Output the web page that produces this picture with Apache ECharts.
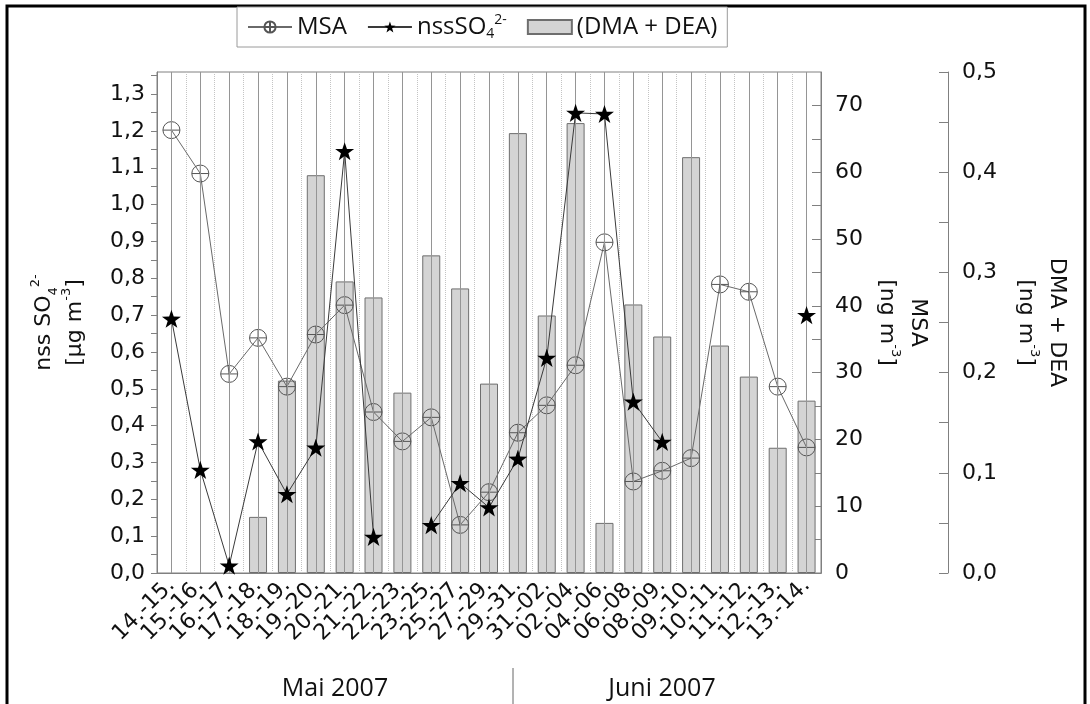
<!DOCTYPE html>
<html>
<head>
<meta charset="utf-8">
<script src="https://cdn.jsdelivr.net/npm/echarts@6/dist/echarts.min.js"></script>
<style>
  html, body { margin: 0; padding: 0; background: #fff; }
  #chart { width: 1090px; height: 704px; }
</style>
</head>
<body>
<div id="chart"></div>
<script>
// sampling periods (Mai / Juni 2007)
const periods = ['14.-15.', '15.-16.', '16.-17.', '17.-18.', '18.-19.', '19.-20.', '20.-21.', '21.-22.',
  '22.-23.', '23.-25.', '25.-27.', '27.-29.', '29.-31.', '31.-02.', '02.-04.', '04.-06.', '06.-08.',
  '08.-09.', '09.-10.', '10.-11.', '11.-12.', '12.-13.', '13.-14.'];

// MSA [ng m-3]
const msa = [66.3, 59.8, 29.8, 35.2, 27.9, 35.7, 40.1, 24.1, 19.7, 23.3, 7.2, 12.1,
  21.0, 25.1, 31.1, 49.5, 13.7, 15.3, 17.2, 43.2, 42.1, 27.9, 18.8];

// nss SO4 2- [ug m-3]
const nssSO4 = [0.69, 0.28, 0.02, 0.357, 0.214, 0.34, 1.145, 0.098, null, 0.13, 0.244, 0.178,
  0.31, 0.584, 1.249, 1.246, 0.465, 0.356, null, null, null, null, 0.70];

// DMA + DEA [ng m-3]
const dmaDea = [null, null, null, 0.056, 0.192, 0.397, 0.291, 0.275, 0.180, 0.317, 0.284, 0.189,
  0.439, 0.257, 0.449, 0.050, 0.268, 0.236, 0.415, 0.227, 0.196, 0.125, 0.172];

const months = ['Mai 2007', 'Juni 2007'];

const starPath = 'path://M12,0 L14.9,8.6 L24,8.7 L16.7,14.1 L19.4,22.8 L12,17.5 L4.6,22.8 L7.3,14.1 L0,8.7 L9.1,8.6 Z';
const circlePlus = 'path://M1,12 A11,11 0 1,0 23,12 A11,11 0 1,0 1,12 Z M1,12 L23,12 M12,1 L12,23';

const axisFont = 'DejaVu Sans';
const textFont = 'Open Sans';
const gray = '#808080';

function comma(v, digits) {
  return v.toFixed(digits).replace('.', ',');
}

const nameRich = {
  a: { fontFamily: axisFont, fontSize: 22, color: '#111', lineHeight: 31 },
  sub: { fontFamily: axisFont, fontSize: 13, color: '#111', verticalAlign: 'bottom', lineHeight: 31 },
  sup: { fontFamily: axisFont, fontSize: 13, color: '#111', verticalAlign: 'top', lineHeight: 31 }
};

let myChart = echarts.init(document.getElementById('chart'));
myChart.setOption({
  animation: false,
  backgroundColor: '#fff',
  grid: {
    left: 157, right: 269, top: 72, bottom: 131,
    show: true, borderColor: gray, borderWidth: 1,
    outerBoundsMode: 'none'
  },
  legend: {
    left: 237, top: 7,
    data: [{ name: 'MSA' }, { name: 'nss' }, { name: '(DMA + DEA)', icon: 'rect' }],
    borderColor: '#9a9a9a', borderWidth: 1, backgroundColor: '#fff',
    padding: [6, 10, 6, 10],
    itemWidth: 44, itemHeight: 14, itemGap: 20,
    formatter: function (name) {
      if (name === 'nss') return '{t|nssSO}{sub|4}{sup|2-}';
      return '{t|' + name + '}';
    },
    textStyle: {
      rich: {
        t: { fontFamily: textFont, fontSize: 24, color: '#111' },
        sub: { fontFamily: textFont, fontSize: 14, color: '#111', verticalAlign: 'bottom', lineHeight: 28 },
        sup: { fontFamily: textFont, fontSize: 14, color: '#111', verticalAlign: 'top', lineHeight: 28 }
      }
    }
  },
  xAxis: [
    {
      type: 'category', data: periods, position: 'bottom',
      axisLine: { lineStyle: { color: gray } },
      axisTick: { interval: 0, length: 5, lineStyle: { color: gray } },
      axisLabel: {
        interval: 0, rotate: 45, margin: 9, hideOverlap: false,
        fontFamily: axisFont, fontSize: 22, color: '#111'
      },
      splitLine: { show: true, interval: 0, lineStyle: { color: '#c4c4c4', type: 'dotted', width: 1 } }
    },
    {
      type: 'category', data: periods, position: 'bottom',
      axisLine: { show: false },
      axisTick: { interval: 0, alignWithLabel: true, length: 5, lineStyle: { color: gray } },
      axisLabel: { show: false },
      splitLine: { show: false }
    },
    {
      type: 'category', data: periods, position: 'top',
      axisLine: { lineStyle: { color: gray } },
      axisTick: { interval: 0, inside: true, length: 5, lineStyle: { color: gray } },
      axisLabel: { show: false },
      splitLine: { show: false }
    }
  ],
  yAxis: [
    {
      type: 'value', position: 'left', min: 0, max: 1.36, interval: 0.05,
      axisLine: { show: true, lineStyle: { color: gray } },
      axisTick: { show: true, length: 6, lineStyle: { color: gray } },
      axisLabel: {
        margin: 12, fontFamily: axisFont, fontSize: 22, color: '#111', showMaxLabel: false,
        formatter: function (v) {
          const k = Math.round(v * 100);
          return (k % 10 === 0 && k <= 130) ? comma(v, 1) : '';
        }
      },
      splitLine: { show: false },
      name: '{a|nss SO}{sub|4}{sup|2-}\n{a|[µg m}{sup|-3}{a|]}',
      nameLocation: 'middle', nameRotate: 90, nameGap: 66, nameMoveOverlap: false,
      nameTextStyle: { rich: nameRich, align: 'center' }
    },
    {
      type: 'value', position: 'right', min: 0, max: 75, interval: 5,
      axisLine: { show: true, lineStyle: { color: gray } },
      axisTick: { show: true, inside: true, length: 9, lineStyle: { color: gray } },
      axisLabel: {
        margin: 14, fontFamily: axisFont, fontSize: 22, color: '#111', showMaxLabel: false,
        formatter: function (v) { return (v % 10 === 0 && v <= 70) ? String(v) : ''; }
      },
      splitLine: { show: false },
      name: '{a|MSA}\n{a|[ng m}{sup|-3}{a|]}',
      nameLocation: 'middle', nameRotate: -90, nameGap: 50, nameMoveOverlap: false,
      nameTextStyle: { rich: nameRich, align: 'center' }
    },
    {
      type: 'value', position: 'right', offset: 127, min: 0, max: 0.5, interval: 0.05,
      axisLine: { show: true, lineStyle: { color: gray } },
      axisTick: { show: true, inside: true, length: 9, lineStyle: { color: gray } },
      axisLabel: {
        margin: 14, fontFamily: axisFont, fontSize: 22, color: '#111',
        formatter: function (v) {
          const k = Math.round(v * 100);
          return k % 10 === 0 ? comma(v, 1) : '';
        }
      },
      splitLine: { show: false },
      name: '{a|DMA + DEA}\n{a|[ng m}{sup|-3}{a|]}',
      nameLocation: 'middle', nameRotate: -90, nameGap: 62, nameMoveOverlap: false,
      nameTextStyle: { rich: nameRich, align: 'center' }
    }
  ],
  series: [
    {
      name: '(DMA + DEA)', type: 'bar', xAxisIndex: 0, yAxisIndex: 2,
      data: dmaDea, barWidth: 18,
      itemStyle: { color: '#d4d4d4', borderColor: '#6e6e6e', borderWidth: 1 },
      markLine: {
        silent: true, symbol: 'none', animation: false,
        label: { show: false },
        lineStyle: { color: '#959595', type: 'solid', width: 1 },
        data: periods.map(function (p) { return { xAxis: p }; })
      }
    },
    {
      name: 'MSA', type: 'line', xAxisIndex: 0, yAxisIndex: 1, z: 4,
      data: msa,
      symbol: circlePlus, symbolSize: 17, symbolKeepAspect: true,
      lineStyle: { color: '#6a6a6a', width: 1 },
      itemStyle: { color: 'rgba(255,255,255,0)', borderColor: '#555', borderWidth: 1 }
    },
    {
      name: 'nss', type: 'line', xAxisIndex: 0, yAxisIndex: 0, z: 5,
      data: nssSO4,
      symbol: starPath, symbolSize: 19, symbolKeepAspect: true,
      lineStyle: { color: '#3a3a3a', width: 1 },
      itemStyle: { color: '#000' }
    }
  ],
  graphic: [
    {
      type: 'rect', silent: true, z: -1,
      shape: { x: 7, y: 6, width: 1078, height: 720 },
      style: { fill: 'none', stroke: '#000', lineWidth: 3 }
    },
    {
      type: 'text', x: 335, y: 689, silent: true,
      style: { text: months[0], align: 'center', verticalAlign: 'middle', fontFamily: textFont, fontSize: 25, fill: '#111' }
    },
    {
      type: 'text', x: 662, y: 689, silent: true,
      style: { text: months[1], align: 'center', verticalAlign: 'middle', fontFamily: textFont, fontSize: 25, fill: '#111' }
    },
    {
      type: 'line', silent: true,
      shape: { x1: 513, y1: 668, x2: 513, y2: 704 },
      style: { stroke: '#666', lineWidth: 1 }
    }
  ]
});
</script>
</body>
</html>
